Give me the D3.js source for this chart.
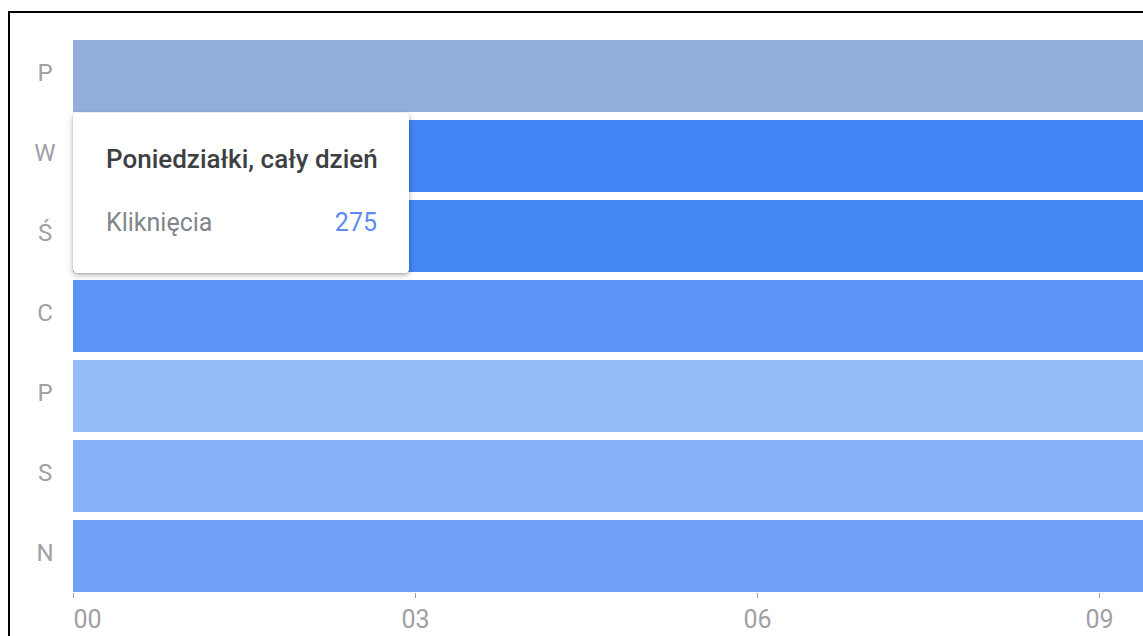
<!DOCTYPE html>
<html>
<head>
<meta charset="utf-8">
<script src="https://cdn.jsdelivr.net/npm/d3@7"></script>
<style>
    html, body { margin: 0; padding: 0; width: 1143px; height: 636px; overflow: hidden; background: #fff; }
    #frame {
        position: absolute; left: 8px; top: 11px;
        width: 1300px; height: 800px;
        border: 2px solid #000; box-sizing: border-box;
    }
    #chart { position: absolute; left: 0; top: 0; }
    .tooltip {
        position: absolute;
        background: #fff;
        border-radius: 4px;
        box-shadow: 0 2px 6px rgba(0,0,0,0.28), 0 1px 2px rgba(0,0,0,0.15);
        font-family: Roboto, sans-serif;
        box-sizing: border-box;
    }
</style>
</head>
<body>
<div id="frame"></div>
<div id="chart"></div>
<script>
// day labels (Polish, Monday first) and full names for the tooltip
const dayLabels = ["P", "W", "Ś", "C", "P", "S", "N"];
const dayNames = ["Poniedziałki", "Wtorki", "Środy", "Czwartki", "Piątki", "Soboty", "Niedziele"];
// clicks per day, whole day
const dayClicks = [275, 412, 408, 334, 149, 201, 273];
// hour ticks
const hourTicks = [0, 3, 6, 9, 12, 15, 18, 21];

const hoveredDay = 0;

const width = 1143, height = 636;
const margin = { top: 40, left: 73 };

const svg = d3.select("#chart").append("svg")
    .attr("width", width)
    .attr("height", height);

// x: hours of day, 114px per hour (chart continues past the right edge)
const x = d3.scaleLinear()
    .domain([0, 24])
    .range([margin.left, margin.left + 24 * 114]);

const y = d3.scaleBand()
    .domain(d3.range(dayLabels.length))
    .range([margin.top, 592])
    .paddingInner(0.1);

const color = d3.scaleSequential()
    .interpolator(d3.interpolateRgb("#c6dafc", "#4285f4"))
    .domain([0, d3.max(dayClicks)]);

// rows
svg.selectAll(".day")
    .data(dayClicks)
    .enter()
    .append("rect")
    .attr("class", "day")
    .attr("x", x(0))
    .attr("y", (d, i) => y(i))
    .attr("width", x(24) - x(0))
    .attr("height", y.bandwidth())
    .attr("fill", (d, i) => i === hoveredDay ? "#93aedd" : color(d));

// day labels
svg.selectAll(".day-label")
    .data(dayLabels)
    .enter()
    .append("text")
    .attr("class", "day-label")
    .attr("x", 45)
    .attr("y", (d, i) => y(i) + y.bandwidth() / 2)
    .attr("dy", "0.21em")
    .attr("text-anchor", "middle")
    .style("font-family", "Roboto, sans-serif")
    .style("font-size", "24px")
    .style("fill", "#a0a0a4")
    .text(d => d);

// hour axis (only ticks that fall inside the visible area)
const xAxis = d3.axisBottom(x)
    .tickValues(hourTicks.filter(h => x(h) < width - 20))
    .tickFormat(d3.format("02d"))
    .tickSize(5)
    .tickPadding(12);

const axisG = svg.append("g")
    .attr("transform", `translate(0, 593)`)
    .call(xAxis);

axisG.select(".domain").remove();
axisG.selectAll(".tick line").attr("stroke", "#9aa0a6");
axisG.selectAll(".tick text")
    .style("font-family", "Roboto, sans-serif")
    .style("font-size", "25px")
    .style("fill", "#a0a0a4")
    .attr("text-anchor", d => d === 0 ? "start" : "middle");

// tooltip for the hovered row
const tip = d3.select("body").append("div")
    .attr("class", "tooltip")
    .style("left", `${x(0)}px`)
    .style("top", "113px")
    .style("width", "336px")
    .style("height", "160px");

tip.append("div")
    .style("position", "absolute")
    .style("left", "33px")
    .style("top", "31px")
    .style("font-size", "26px")
    .style("font-weight", "500")
    .style("color", "#3c4043")
    .text(`${dayNames[hoveredDay]}, cały dzień`);

tip.append("div")
    .style("position", "absolute")
    .style("left", "33px")
    .style("top", "95px")
    .style("font-size", "25px")
    .style("color", "#80868b")
    .text("Kliknięcia");

tip.append("div")
    .style("position", "absolute")
    .style("right", "32px")
    .style("top", "95px")
    .style("font-size", "25px")
    .style("color", "#5b8def")
    .text(dayClicks[hoveredDay]);
</script>
</body>
</html>
